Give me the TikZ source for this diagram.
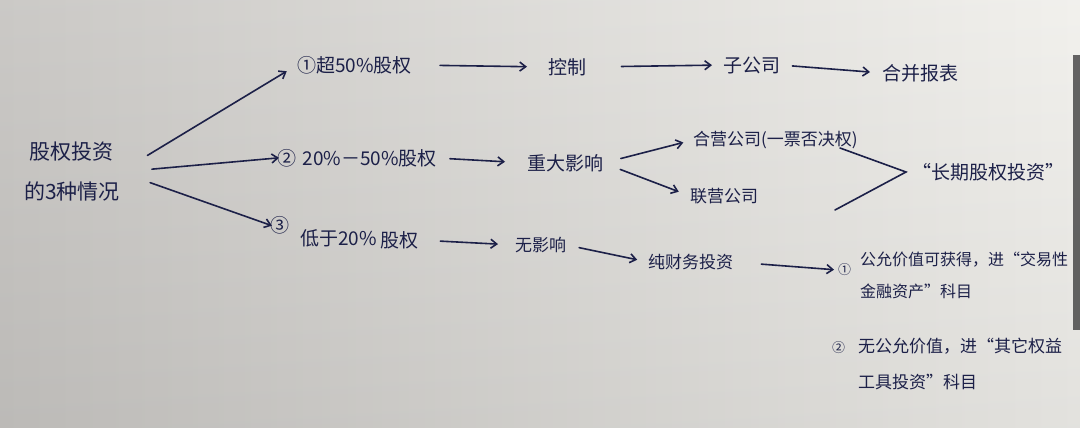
\documentclass[tikz,border=0pt]{standalone}
\usepackage{fontspec}
\newfontfamily\cjk{Noto Sans CJK SC}
\usetikzlibrary{arrows.meta}
\definecolor{ink}{RGB}{28,32,72}
\definecolor{paperleft}{RGB}{200,198,195}
\definecolor{papermid}{RGB}{229,227,224}
\definecolor{paperright}{RGB}{241,240,236}
\tikzset{
  txt/.style={inner sep=0pt, anchor=west, text=ink, font=\cjk\fontsize{19}{24}\selectfont},
  small/.style={txt, font=\cjk\fontsize{16}{32}\selectfont, align=left},
  arr/.style={draw=ink, line width=1.6pt, line cap=round, -{Straight Barb[length=6pt,width=9pt]}},
  ln/.style={draw=ink, line width=1.6pt, line cap=round}
}
\begin{document}
\begin{tikzpicture}[x=1pt,y=-1pt]
\shade[left color=paperleft, middle color=papermid, right color=paperright] (0,0) rectangle (1080,428);
\shade[top color=white, bottom color=black, opacity=0.06] (0,0) rectangle (1080,428);
\fill[black!75, opacity=0.8] (1073,55) rectangle (1080,330);
\useasboundingbox (0,0) rectangle (1080,428);
% source
\node[txt, anchor=center, align=center, font=\cjk\fontsize{21}{40}\selectfont] (src) at (72,172) {股权投资\\的3种情况};
% row 1
\node[txt] (r1) at (297,65) {①超50\%股权};
\node[txt] (ctrl) at (548,67) {控制};
\node[txt] (sub) at (723,65) {子公司};
\node[txt] (merge) at (882,73) {合并报表};
% row 2
\node[txt] (r2) at (277,158) {②\,\,20\%－50\%股权};
\node[txt] (zd) at (527,163) {重大影响};
\node[txt, font=\cjk\fontsize{17}{20}\selectfont] (hy) at (693,140) {合营公司(一票否决权)};
\node[txt, font=\cjk\fontsize{17}{20}\selectfont] (ly) at (690,196) {联营公司};
\node[txt] (cq) at (912,172) {“长期股权投资”};
% row 3
\node[txt] (n3) at (270,225) {③};
\node[txt] (dy) at (300,238) {低于20\%};
\node[txt] (r3) at (380,240) {股权};
\node[txt, font=\cjk\fontsize{17}{20}\selectfont] (wy) at (515,245) {无影响};
\node[txt, font=\cjk\fontsize{17}{20}\selectfont] (cw) at (648,262) {纯财务投资};
\node[txt, font=\cjk\fontsize{13}{16}\selectfont] (b1) at (838,270) {①};
\node[small, anchor=north west] (t1) at (860,252) {公允价值可获得，进“交易性\\金融资产”科目};
\node[txt, font=\cjk\fontsize{13}{16}\selectfont] (b2) at (832,348) {②};
\node[small, anchor=north west, font=\cjk\fontsize{17}{36}\selectfont] (t2) at (858,338) {无公允价值，进“其它权益\\工具投资”科目};
% arrows from source
\draw[arr, shorten <=32pt, shorten >=12pt] (src.east) -- (r1.west);
\draw[arr, shorten <=32pt, shorten >=-2pt] (src.east) -- (r2.west);
\draw[arr, shorten <=32pt, shorten >=-2pt] (src.east) -- (n3.west);
% row 1 arrows
\draw[arr, shorten <=28pt, shorten >=21pt] (r1.east) -- (ctrl.west);
\draw[arr, shorten <=35pt, shorten >=11pt] (ctrl.east) -- (sub.west);
\draw[arr, shorten <=12pt, shorten >=12pt] (sub.east) -- (merge.west);
% row 2 arrows
\draw[arr, shorten <=13pt, shorten >=22pt] (r2.east) -- (zd.west);
\draw[arr, shorten <=18pt, shorten >=10pt] (zd.east) -- (hy.west);
\draw[arr, shorten <=18pt, shorten >=12pt] (zd.east) -- (ly.west);
\coordinate (c1) at (840,148);
\coordinate (c2) at (835,210);
\coordinate (tip) at (906,172);
\draw[ln] (c1) -- (tip) -- (c2);
% row 3 arrows
\draw[arr, shorten <=22pt, shorten >=17pt] (r3.east) -- (wy.west);
\draw[arr, shorten <=13pt, shorten >=11pt] (wy.east) -- (cw.west);
\draw[arr, shorten <=28pt, shorten >=4pt] (cw.east) -- (b1.west);
\end{tikzpicture}
\end{document}
